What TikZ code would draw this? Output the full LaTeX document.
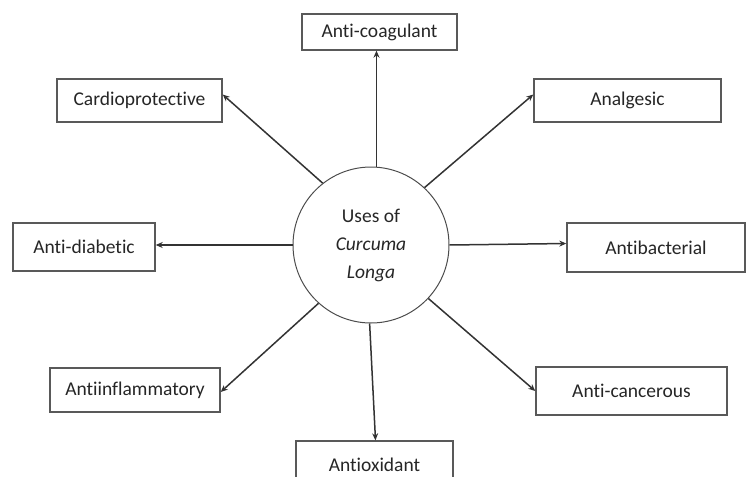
\documentclass[tikz,border=0pt]{standalone}
\usepackage{fontspec}
\setmainfont{Carlito}[Ligatures=NoCommon]
\usetikzlibrary{arrows.meta}
\begin{document}
\begin{tikzpicture}[x=1pt,y=-1pt,
  usebox/.style={draw=black!65,line width=1.4pt,fill=white,inner sep=0pt,
    font=\fontsize{19.5}{23}\selectfont,text=black!85},
  hub/.style={draw=black!70,line width=1pt,circle,inner sep=0pt,minimum size=156pt,
    font=\fontsize{19.5}{28}\selectfont,text=black!85,align=center},
  link/.style={draw=black!80,line width=1.5pt,-{Stealth[length=7pt,width=6pt]}}]
\useasboundingbox (0,0) rectangle (748,477);
\node[hub] (c) at (371,245) {Uses of\\\textit{Curcuma}\\\textit{Longa}};
\node[usebox,minimum width=155pt,minimum height=36pt] (coag) at (379.5,32) {Anti-coagulant};
\node[usebox,minimum width=165pt,minimum height=43pt] (cardio) at (139.5,100.5) {Cardioprotective};
\node[usebox,minimum width=187pt,minimum height=43pt] (analg) at (627.5,100.5) {Analgesic};
\node[usebox,minimum width=142pt,minimum height=48pt] (diab) at (84,247) {Anti-diabetic};
\node[usebox,minimum width=178pt,minimum height=49pt] (bact) at (656,247.5) {Antibacterial};
\node[usebox,minimum width=170pt,minimum height=44pt] (infl) at (135,390) {Antiinflammatory};
\node[usebox,minimum width=191pt,minimum height=48pt] (canc) at (631.5,391) {Anti-cancerous};
\node[usebox,minimum width=157pt,minimum height=48pt] (oxid) at (374.5,465) {Antioxidant};
\draw[link] (c.86) -- (coag.south -| c.86);
\draw[link] (c.128) -- ([yshift=6pt]cardio.east);
\draw[link] (c.47) -- ([yshift=6pt]analg.west);
\draw[link] (c.180) -- (diab.east |- c.180);
\draw[link] (c.0) -- ([yshift=4pt]bact.west);
\draw[link] (c.228) -- ([yshift=-2pt]infl.east);
\draw[link] (c.-43) -- (canc.west);
\draw[link] (c.-91) -- ([xshift=1pt]oxid.north);
\end{tikzpicture}
\end{document}
